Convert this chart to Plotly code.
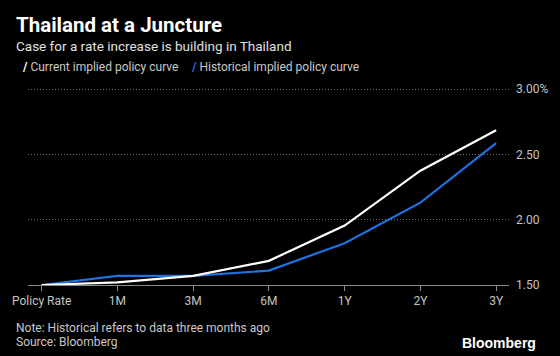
import plotly.graph_objects as go

categories = ["Policy Rate", "1M", "3M", "6M", "1Y", "2Y", "3Y"]
current = [1.50, 1.52, 1.57, 1.685, 1.955, 2.375, 2.685]
historical = [1.50, 1.57, 1.57, 1.61, 1.82, 2.13, 2.585]
ytick_vals = [1.5, 2.0, 2.5, 3.0]
ytick_text = ["1.50", "2.00", "2.50", "3.00%"]

FONT = "Roboto"
fig = go.Figure()
fig.add_trace(go.Scatter(x=categories, y=historical, mode="lines",
                         name="Historical implied policy curve",
                         line=dict(color="#1f72e0", width=2.2), cliponaxis=False))
fig.add_trace(go.Scatter(x=categories, y=current, mode="lines",
                         name="Current implied policy curve",
                         line=dict(color="#ffffff", width=2.2), cliponaxis=False))

fig.update_layout(
    width=560, height=356,
    paper_bgcolor="black", plot_bgcolor="black",
    margin=dict(l=28, r=42, t=86, b=71),
    showlegend=False,
    font=dict(family=FONT, color="#bdbdbd", size=12),
    xaxis=dict(type="category", range=[-0.18, 6.17], showgrid=False,
               showline=True, linecolor="#8a8a8a", linewidth=1,
               ticks="outside", ticklen=5, tickcolor="#8a8a8a", ticklabelstandoff=0,
               tickfont=dict(size=12, color="#c4c4c4", family=FONT)),
    yaxis=dict(range=[1.5, 3.023], side="right", tickvals=ytick_vals, ticktext=ytick_text,
               showgrid=True, gridcolor="#707070", griddash="1px,2px", gridwidth=1,
               zeroline=False, ticks="", ticklabelstandoff=6,
               tickfont=dict(size=12, color="#c4c4c4", family=FONT)),
)

PT, PH = 86, 199
annos = [
    dict(text="<b>Thailand at a Juncture</b>", x=14, y=25, size=20.5, color="#ffffff"),
    dict(text="Case for a rate increase is building in Thailand", x=14, y=46, size=13.5, color="#e0e0e0"),
    dict(text="<b><span style='color:#ffffff'>/</span></b> Current implied policy curve", x=20, y=67, size=12, color="#c8c8c8"),
    dict(text="<b><span style='color:#1f72e0'>/</span></b> Historical implied policy curve", x=192, y=67, size=12, color="#c8c8c8"),
    dict(text="Note: Historical refers to data three months ago", x=14, y=328, size=12, color="#c8c8c8"),
    dict(text="Source: Bloomberg", x=14, y=342, size=12, color="#c8c8c8"),
]
for a in annos:
    fig.add_annotation(text=a["text"], xref="paper", yref="paper",
                       x=(a["x"] - 28) / 490, y=1 - (a["y"] - PT) / PH,
                       xanchor="left", yanchor="middle", showarrow=False,
                       font=dict(size=a["size"], color=a["color"], family=FONT))
fig.add_annotation(text="<b>Bloomberg</b>", xref="paper", yref="paper",
                   x=(548 - 28) / 490, y=1 - (343 - PT) / PH, xanchor="right", yanchor="middle",
                   showarrow=False, font=dict(size=14, color="#ffffff", family="Liberation Sans"))

fig.write_html("out.html", config={"displayModeBar": False})
with open("out.html", encoding="utf-8") as f:
    html = f.read()
html = html.replace("<body>", "<body style=\"margin:0;padding:0;background:black;\">", 1)
with open("out.html", "w", encoding="utf-8") as f:
    f.write(html)
